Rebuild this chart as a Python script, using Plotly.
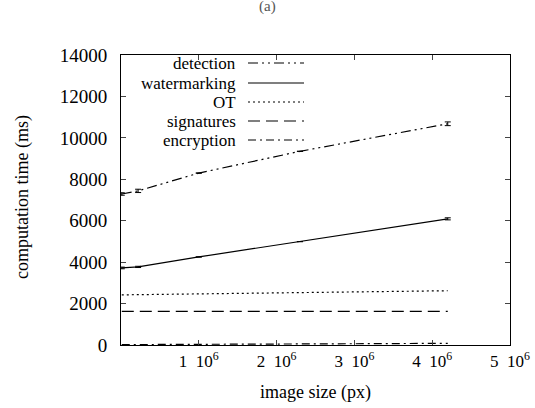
import plotly.graph_objects as go

# data
image_size = [0.01e6, 0.22e6, 1.0e6, 2.3e6, 4.2e6]
detection = [7290, 7440, 8300, 9350, 10680]
watermarking = [3720, 3770, 4250, 4990, 6090]
ot = [2420, 2430, 2450, 2500, 2620]
signatures = [1620, 1620, 1620, 1620, 1620]
encryption = [20, 25, 35, 50, 80]
det_err = [60, 80, 0, 0, 90]
wm_err = [40, 30, 0, 0, 50]

series_names = ["detection", "watermarking", "OT", "signatures", "encryption"]
series_vals = [detection, watermarking, ot, signatures, encryption]
series_dash = ["10px,4px,2px,4px,2px,4px", "solid", "2px,3px", "12px,6px", "8px,4px,2px,4px"]
series_err = [det_err, wm_err, None, None, None]

x_tickvals = [1e6, 2e6, 3e6, 4e6, 5e6]
x_ticktext = ["1&nbsp;&nbsp;10<sup>6</sup>", "2&nbsp;&nbsp;10<sup>6</sup>", "3&nbsp;&nbsp;10<sup>6</sup>",
              "4&nbsp;&nbsp;10<sup>6</sup>", "5&nbsp;&nbsp;10<sup>6</sup>"]
y_tickvals = [0, 2000, 4000, 6000, 8000, 10000, 12000, 14000]

FONT = "Liberation Serif"

fig = go.Figure()
for name, vals, dash, err in zip(series_names, series_vals, series_dash, series_err):
    kw = {}
    if err is not None:
        kw["error_y"] = dict(type="data", array=err, visible=True, color="black", thickness=1, width=3)
    fig.add_trace(go.Scatter(x=image_size, y=vals, mode="lines", name=name,
                             line=dict(color="black", width=1.2, dash=dash),
                             showlegend=False, **kw))

W, H = 535, 408
ml, mr, mt, mb = 121, 25, 55, 63
pw, ph = W - ml - mr, H - mt - mb

def px_to_paper(x, y):
    return (x - ml) / pw, 1 - (y - mt) / ph

# manual legend (gnuplot-style: text right-aligned, sample on right)
legend_rows_y = [63, 83, 102, 121, 140]
shapes = []
annotations = []
for name, dash, yy in zip(series_names, series_dash, legend_rows_y):
    tx, ty = px_to_paper(238, yy)
    annotations.append(dict(x=tx, y=ty, xref="paper", yref="paper", text=name,
                            showarrow=False, xanchor="right", yanchor="middle",
                            font=dict(family=FONT, size=17, color="black")))
    x0, y0 = px_to_paper(248, yy)
    x1, _ = px_to_paper(304, yy)
    shapes.append(dict(type="line", xref="paper", yref="paper", x0=x0, x1=x1, y0=y0, y1=y0,
                       line=dict(color="black", width=1.2, dash=dash)))

# y axis title
tx, ty = px_to_paper(22, 197)
annotations.append(dict(x=tx, y=ty, xref="paper", yref="paper", text="computation time (ms)",
                        textangle=-90, showarrow=False, xanchor="center", yanchor="middle",
                        font=dict(family=FONT, size=18, color="black")))

# clipped title at top
tx, ty = px_to_paper(267, 6)
annotations.append(dict(x=tx, xref="paper", y=ty, yref="paper",
                        text="(a)", showarrow=False, yanchor="middle",
                        font=dict(family=FONT, size=15, color="#555")))

fig.update_layout(
    width=W, height=H,
    margin=dict(l=ml, r=mr, t=mt, b=mb, autoexpand=False),
    paper_bgcolor="white", plot_bgcolor="white",
    font=dict(family=FONT, size=17, color="black"),
    shapes=shapes, annotations=annotations,
    xaxis=dict(range=[0, 5e6], tickvals=x_tickvals, ticktext=x_ticktext,
               ticks="inside", ticklen=5, showline=True, linecolor="black", linewidth=1,
               mirror="ticks", showgrid=False, zeroline=False, automargin=False,
               ticklabelstandoff=1,
               title=dict(text="image size (px)", font=dict(family=FONT, size=18), standoff=14),
               tickfont=dict(family=FONT, size=17)),
    yaxis=dict(range=[0, 14000], tickvals=y_tickvals, tickformat="d",
               ticks="inside", ticklen=5, showline=True, linecolor="black", linewidth=1,
               mirror="ticks", showgrid=False, zeroline=False, automargin=False,
               ticklabelstandoff=9,
               tickfont=dict(family=FONT, size=19)),
)

fig.write_html("out.html", config={"displayModeBar": False},
               post_script="document.body.style.margin='0';")
